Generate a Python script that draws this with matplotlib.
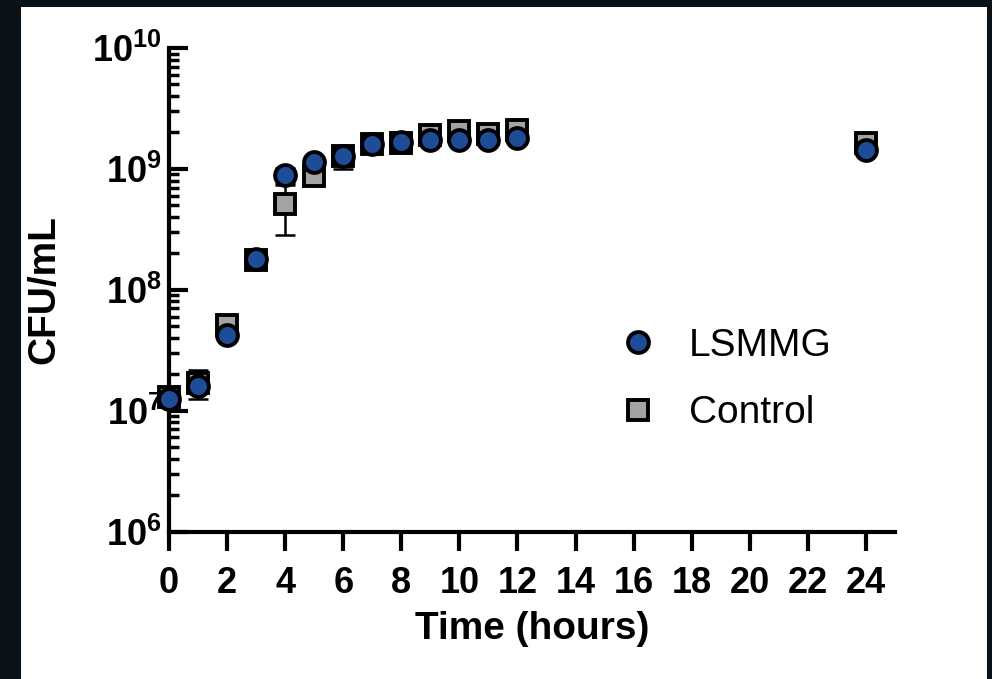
import matplotlib.pyplot as plt
from matplotlib.patches import Rectangle
from matplotlib.ticker import LogLocator, NullFormatter

plt.rcParams['font.family'] = ['Liberation Sans', 'DejaVu Sans']
plt.rcParams['mathtext.fontset'] = 'custom'
plt.rcParams['mathtext.rm'] = 'Liberation Sans'
plt.rcParams['mathtext.bf'] = 'Liberation Sans:bold'

# 数据
hours = [0, 1, 2, 3, 4, 5, 6, 7, 8, 9, 10, 11, 12, 24]
lsmmg = [1.25e7, 1.6e7, 4.2e7, 1.8e8, 8.9e8, 1.14e9, 1.28e9, 1.62e9, 1.67e9,
         1.75e9, 1.75e9, 1.75e9, 1.8e9, 1.43e9]
lsmmg_sd = [5e5, 1e6, 3e6, 1e7, 1.3e8, 8e7, 8e7, 8e7, 8e7, 8e7, 8e7, 8e7, 8e7, 8e7]
control = [1.3e7, 1.7e7, 5.1e7, 1.75e8, 5.1e8, 8.7e8, 1.27e9, 1.62e9, 1.65e9,
           1.91e9, 2.04e9, 1.95e9, 2.08e9, 1.64e9]
control_sd = [1e6, 4.5e6, 5e6, 1.5e7, 2.27e8, 1.2e8, 2.8e8, 1e8, 1e8,
              1.5e8, 1.5e8, 1.5e8, 1.5e8, 1e8]
xticks = list(range(0, 25, 2))
yticks = [1e6, 1e7, 1e8, 1e9, 1e10]
ytick_labels = [r'$\mathbf{10^{%d}}$' % e for e in range(6, 11)]

fig = plt.figure(figsize=(9.92, 6.79), dpi=100)
fig.patch.set_facecolor('#0b1119')
# 白色面板
panel = Rectangle((21 / 992, 0), (987 - 21) / 992, (679 - 7) / 679,
                  transform=fig.transFigure, facecolor='white',
                  edgecolor='none', zorder=-10)
fig.add_artist(panel)

ax = fig.add_axes([0.1704, 0.2172, 0.9022 - 0.1704, 0.9293 - 0.2172])
ax.set_zorder(5)
ax.set_facecolor('none')

ax.errorbar(hours, control, yerr=control_sd, fmt='none', ecolor='black',
            elinewidth=1.8, capsize=7, capthick=1.8, zorder=2)
ax.plot(hours, control, ls='none', marker='s', ms=15, mfc='#a3a3a3',
        mec='black', mew=2.8, zorder=3, label='Control', clip_on=False)
ax.errorbar(hours, lsmmg, yerr=lsmmg_sd, fmt='none', ecolor='black',
            elinewidth=1.8, capsize=7, capthick=1.8, zorder=4)
ax.plot(hours, lsmmg, ls='none', marker='o', ms=15, mfc='#1f4c96',
        mec='black', mew=2.8, zorder=5, label='LSMMG', clip_on=False)

ax.set_yscale('log')
ax.set_xlim(0, 25)
ax.set_ylim(1e6, 1e10)

ax.spines['top'].set_visible(False)
ax.spines['right'].set_visible(False)
for side in ['left', 'bottom']:
    ax.spines[side].set_linewidth(3)

ax.set_xticks(xticks)
ax.set_xticklabels([str(x) for x in xticks], fontsize=26, fontweight='bold')
ax.set_yticks(yticks)
ax.set_yticklabels(ytick_labels, fontsize=26)
ax.yaxis.set_minor_locator(LogLocator(base=10, subs=range(2, 10), numticks=20))
ax.yaxis.set_minor_formatter(NullFormatter())

ax.tick_params(axis='x', which='major', direction='out', length=14, width=3, pad=11)
ax.tick_params(axis='y', which='major', direction='in', length=14, width=3, pad=5)
ax.tick_params(axis='y', which='minor', direction='in', length=7, width=2.5)

ax.set_xlabel('Time (hours)', fontsize=28, fontweight='bold', labelpad=7)
ax.set_ylabel('CFU/mL', fontsize=28, fontweight='bold', labelpad=22)

handles, labels = ax.get_legend_handles_labels()
ax.legend(handles[::-1], labels[::-1], loc='upper left',
          bbox_to_anchor=(580 / 992, 1 - 293 / 679), bbox_transform=fig.transFigure,
          frameon=False, fontsize=28, handletextpad=0.7, labelspacing=0.8,
          markerscale=1.0, handlelength=1.2)

fig.savefig('out.png', dpi=100, facecolor=fig.get_facecolor())
